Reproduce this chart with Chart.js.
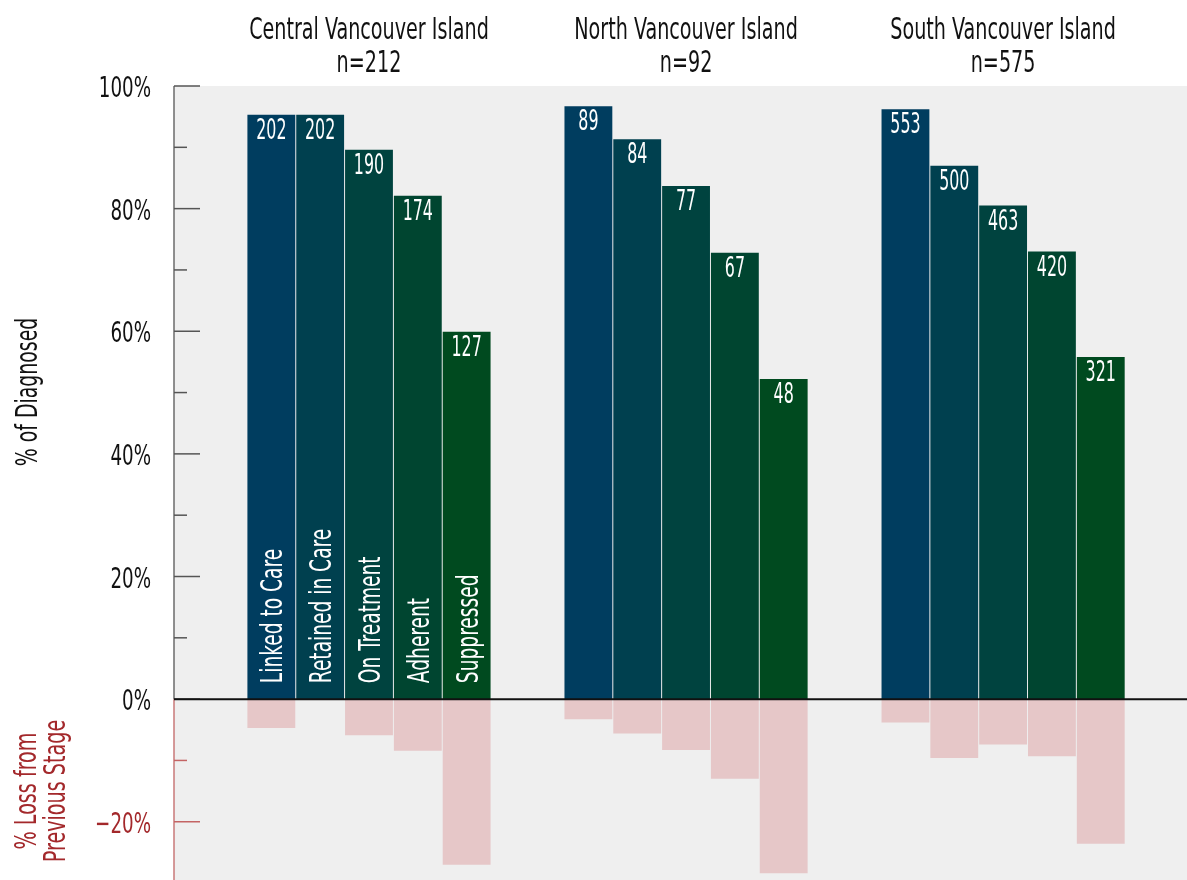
<!DOCTYPE html>
<html>
<head>
<meta charset="utf-8">
<title>HIV cascade by Vancouver Island region</title>
<script src="https://cdn.jsdelivr.net/npm/chart.js@4.4.1/dist/chart.umd.min.js"></script>
<style>
  body { margin: 0; background: #ffffff; }
  #wrap { width: 1187px; height: 880px; position: relative; }
</style>
</head>
<body>
<div id="wrap"><canvas id="cascadeChart"></canvas></div>
<script>
// regions and stages
const groups = ['Central Vancouver Island', 'North Vancouver Island', 'South Vancouver Island'];
const groupN = ['n=212', 'n=92', 'n=575'];
const stages = ['Linked to Care', 'Retained in Care', 'On Treatment', 'Adherent', 'Suppressed'];

// % of diagnosed, per region (one value per stage)
const centralPct = [95.3, 95.3, 89.6, 82.1, 59.9];
const northPct = [96.7, 91.3, 83.7, 72.8, 52.2];
const southPct = [96.2, 87.0, 80.5, 73.0, 55.8];

// % loss from previous stage
const centralLoss = [-4.7, 0, -5.9, -8.4, -27.0];
const northLoss = [-3.3, -5.6, -8.3, -13.0, -28.4];
const southLoss = [-3.8, -9.6, -7.4, -9.3, -23.6];

// counts printed on bars
const centralCounts = [202, 202, 190, 174, 127];
const northCounts = [89, 84, 77, 67, 48];
const southCounts = [553, 500, 463, 420, 321];

// y axis ticks (every 10, labelled every 20)
const yTickValues = [-20, -10, 0, 10, 20, 30, 40, 50, 60, 70, 80, 90, 100];

const FONT = "'DejaVu Sans Condensed', 'DejaVu Sans', sans-serif";
const stageColors = ['#003d5f', '#00404f', '#00433f', '#004530', '#004a1f'];
const lossColor = '#e6c7c8';
const redText = '#a3282b';

const pctByGroup = [centralPct, northPct, southPct];
const lossByGroup = [centralLoss, northLoss, southLoss];
const countsByGroup = [centralCounts, northCounts, southCounts];

const datasets = [];
stages.forEach((stage, s) => {
    datasets.push({
        label: stage,
        data: groups.map((g, i) => ({ x: i, y: pctByGroup[i][s] })),
        backgroundColor: stageColors[s],
        stack: 'st' + s
    });
    datasets.push({
        label: stage + ' loss',
        data: groups.map((g, i) => ({ x: i, y: lossByGroup[i][s] })),
        backgroundColor: lossColor,
        stack: 'st' + s
    });
});

// condensed text: the original face is narrower than anything installed
function drawText(ctx, text, x, y, size, sx, color, align, rotate) {
    ctx.save();
    ctx.translate(x, y);
    if (rotate) ctx.rotate(-Math.PI / 2);
    ctx.scale(sx, 1);
    ctx.font = size + 'px ' + FONT;
    ctx.fillStyle = color;
    ctx.textAlign = align;
    ctx.textBaseline = 'alphabetic';
    ctx.fillText(text, 0, 0);
    ctx.restore();
}

function tickLabel(v) {
    return v < 0 ? '\u2212' + Math.abs(v) + '%' : v + '%';
}

const cascadeDecor = {
    id: 'cascadeDecor',
    beforeDraw(chart) {
        const { ctx, chartArea } = chart;
        ctx.save();
        ctx.fillStyle = '#efefef';
        ctx.fillRect(chartArea.left, chartArea.top, chartArea.right - chartArea.left, chartArea.bottom - chartArea.top);
        ctx.restore();
    },
    afterDatasetsDraw(chart) {
        const { ctx, chartArea, scales } = chart;
        const y0 = scales.y.getPixelForValue(0);
        const ax = chartArea.left;

        // axis line: grey above zero, red below
        ctx.save();
        ctx.lineWidth = 1.5;
        ctx.strokeStyle = '#6b6b6b';
        ctx.beginPath();
        ctx.moveTo(ax, chartArea.top);
        ctx.lineTo(ax, y0);
        ctx.stroke();
        ctx.strokeStyle = '#c87878';
        ctx.beginPath();
        ctx.moveTo(ax, y0);
        ctx.lineTo(ax, chartArea.bottom);
        ctx.stroke();

        // inward tick marks + labels
        scales.y.ticks.forEach(t => {
            const py = scales.y.getPixelForValue(t.value);
            const major = t.value % 20 === 0;
            ctx.strokeStyle = t.value < 0 ? '#c46464' : '#555555';
            ctx.lineWidth = 1.5;
            ctx.beginPath();
            ctx.moveTo(ax, py);
            ctx.lineTo(ax + (major ? 26 : 13), py);
            ctx.stroke();
            if (major) {
                drawText(ctx, tickLabel(t.value), ax - 23, py + 11, 29, 0.7, t.value < 0 ? redText : '#111111', 'right', false);
            }
        });

        // zero line
        ctx.strokeStyle = '#111111';
        ctx.lineWidth = 2;
        ctx.beginPath();
        ctx.moveTo(ax, y0);
        ctx.lineTo(chartArea.right, y0);
        ctx.stroke();
        ctx.restore();

        // counts and stage names
        stages.forEach((stage, s) => {
            const meta = chart.getDatasetMeta(s * 2);
            meta.data.forEach((bar, i) => {
                drawText(ctx, String(countsByGroup[i][s]), bar.x, bar.y + 24, 28, 0.63, '#ffffff', 'center', false);
                if (i === 0) {
                    drawText(ctx, stage, bar.x + 11, y0 - 16, 30, 0.69, '#ffffff', 'left', true);
                }
            });
        });
    },
    afterDraw(chart) {
        const { ctx, scales } = chart;
        groups.forEach((g, i) => {
            const cx = scales.x.getPixelForValue(i);
            drawText(ctx, g, cx, 39, 30, 0.71, '#111111', 'center', false);
            drawText(ctx, groupN[i], cx, 72, 30, 0.71, '#111111', 'center', false);
        });
        drawText(ctx, '% of Diagnosed', 37, 392, 30, 0.7, '#111111', 'center', true);
        drawText(ctx, '% Loss from', 36, 791, 30, 0.71, redText, 'center', true);
        drawText(ctx, 'Previous Stage', 65, 791, 30, 0.71, redText, 'center', true);
    }
};

new Chart(document.getElementById('cascadeChart'), {
    type: 'bar',
    data: { datasets: datasets },
    options: {
        responsive: true,
        maintainAspectRatio: false,
        animation: false,
        layout: { padding: { top: 86, left: 0, right: 0, bottom: 0 } },
        datasets: { bar: { categoryPercentage: 0.77, barPercentage: 0.98 } },
        plugins: { legend: { display: false }, tooltip: { enabled: false } },
        scales: {
            x: {
                type: 'linear',
                offset: false,
                min: -0.615,
                max: 2.58,
                display: false,
                afterBuildTicks: (scale) => {
                    scale.ticks = groups.map((g, i) => ({ value: i }));
                }
            },
            y: {
                stacked: true,
                min: -29.5,
                max: 100,
                afterBuildTicks: (scale) => {
                    scale.ticks = yTickValues.map(v => ({ value: v }));
                },
                afterFit: (scale) => {
                    scale.width = 174;
                    scale.paddingTop = 0;
                    scale.paddingBottom = 0;
                },
                grid: { display: false, drawTicks: false },
                border: { display: false },
                ticks: { display: false }
            }
        }
    },
    plugins: [cascadeDecor]
});
</script>
</body>
</html>
